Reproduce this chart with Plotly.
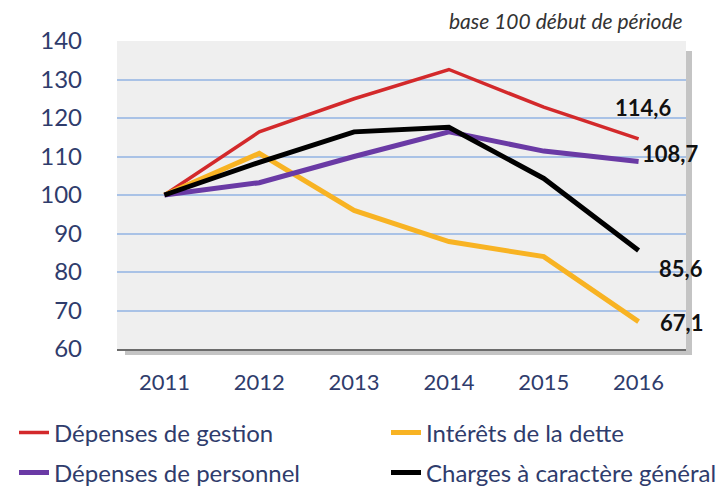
import plotly.graph_objects as go

years = ["2011", "2012", "2013", "2014", "2015", "2016"]
gestion = [100, 116.4, 125.0, 132.6, 122.8, 114.6]
interets = [100, 110.8, 96.0, 87.9, 84.0, 67.1]
personnel = [100, 103.2, 110.0, 116.4, 111.4, 108.7]
charges = [100, 108.5, 116.4, 117.6, 104.3, 85.6]
end_labels = ["114,6", "67,1", "108,7", "85,6"]
y_ticks = [60, 70, 80, 90, 100, 110, 120, 130, 140]

FONT = "Lato"
NAVY = "#2f3c6c"
W, H = 569, 308

fig = go.Figure()
series = [
    ("Dépenses de gestion", gestion, "#d3292b", 3.5, "legend"),
    ("Intérêts de la dette", interets, "#f8b323", 5, "legend2"),
    ("Dépenses de personnel", personnel, "#6a3aa5", 5, "legend3"),
    ("Charges à caractère général", charges, "#000000", 5, "legend4"),
]
for name, vals, col, w, lg in series:
    fig.add_trace(go.Scatter(x=years, y=vals, mode="lines", name=name,
                             line=dict(color=col, width=w), legend=lg))

# end value labels
last = len(years) - 1
offs = [dict(xanchor="center", xshift=4, yshift=31),
        dict(xanchor="left", xshift=19, yshift=-1),
        dict(xanchor="left", xshift=1, yshift=8),
        dict(xanchor="left", xshift=18, yshift=-18)]
for (name, vals, col, w, lg), lab, o in zip(series, end_labels, offs):
    fig.add_annotation(x=last, y=vals[-1], text=lab, showarrow=False,
                       font=dict(family=FONT, size=22, color="#111111", weight="bold"),
                       yanchor="middle", **o)

fig.add_annotation(x=(685 - 117) / W, y=1.0, xref="paper", yref="paper", yanchor="bottom",
                   xanchor="right", yshift=6, showarrow=False,
                   text="<i>base 100 début de période</i>",
                   font=dict(family=FONT, size=21, color="#333333"))

fig.add_shape(type="rect", xref="paper", yref="paper", layer="below",
              x0=8 / W, x1=1 + 6 / W, y0=-6 / H, y1=1 - 10 / H,
              fillcolor="#c4c4c4", line=dict(width=0))
fig.add_shape(type="rect", xref="paper", yref="paper", layer="below",
              x0=0, x1=1, y0=0, y1=1,
              fillcolor="#efefef", line=dict(width=0))

def leg(x, y):
    return dict(orientation="h", x=x, y=y, xanchor="left", yanchor="middle",
                font=dict(family=FONT, size=24, color=NAVY), bgcolor="rgba(0,0,0,0)")

row1 = (349 - 433) / H
row2 = (349 - 473) / H
col1 = (14 - 117) / W
col2 = (386 - 117) / W

fig.update_layout(
    width=724, height=491,
    margin=dict(l=117, r=38, t=41, b=142, autoexpand=False),
    paper_bgcolor="white", plot_bgcolor="rgba(0,0,0,0)",
    showlegend=True,
    font=dict(family=FONT, color=NAVY),
    legend=leg(col1, row1),
    legend2=leg(col2, row1),
    legend3=leg(col1, row2),
    legend4=leg(col2, row2),
)
fig.update_xaxes(type="category", range=[-0.5, 5.5], showgrid=False, automargin=False,
                 showline=True, linecolor="#6b6b6b", linewidth=1.5,
                 ticks="", ticklabelstandoff=13,
                 tickfont=dict(family=FONT, size=22, color=NAVY))
fig.update_yaxes(range=[60, 140], tickvals=y_ticks, showgrid=True, automargin=False,
                 gridcolor="#a9c2e6", gridwidth=1.5, zeroline=False,
                 ticks="", ticklabelstandoff=34,
                 tickfont=dict(family=FONT, size=24, color=NAVY))

fig.write_html("out.html", config={"displayModeBar": False},
               post_script="document.body.style.margin='0';")
